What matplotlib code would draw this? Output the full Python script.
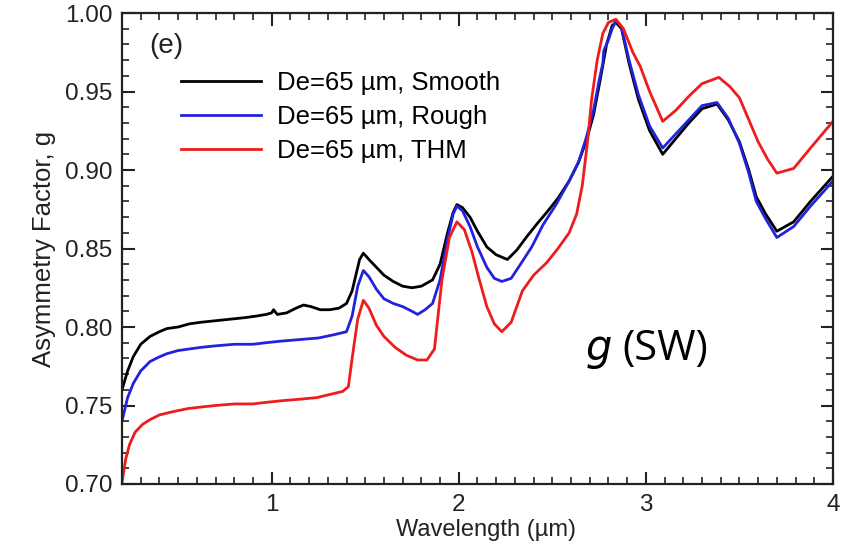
import numpy as np
import matplotlib.pyplot as plt
from matplotlib.ticker import MultipleLocator

# curvas (g vs longitud de onda)
x_smooth = [0.20, 0.23, 0.26, 0.30, 0.35, 0.40, 0.44, 0.50, 0.56, 0.62, 0.70, 0.78, 0.86, 0.92,
            0.97, 1.00, 1.01, 1.03, 1.08, 1.13, 1.17, 1.21, 1.26, 1.31, 1.36, 1.40, 1.43, 1.45,
            1.47, 1.49, 1.52, 1.56, 1.60, 1.65, 1.70, 1.75, 1.80, 1.86, 1.90, 1.94, 1.97, 1.99,
            2.02, 2.06, 2.10, 2.15, 2.20, 2.26, 2.31, 2.36, 2.42, 2.47, 2.53, 2.59, 2.64, 2.68,
            2.72, 2.76, 2.79, 2.82, 2.84, 2.87, 2.91, 2.96, 3.02, 3.09, 3.16, 3.23, 3.30, 3.38,
            3.44, 3.50, 3.55, 3.59, 3.64, 3.70, 3.79, 3.88, 4.00]
g_smooth = [0.760, 0.772, 0.781, 0.789, 0.794, 0.797, 0.799, 0.800, 0.802, 0.803, 0.804, 0.805,
            0.806, 0.807, 0.808, 0.809, 0.811, 0.808, 0.809, 0.812, 0.814, 0.813, 0.811, 0.811,
            0.812, 0.815, 0.823, 0.833, 0.843, 0.847, 0.843, 0.838, 0.833, 0.829, 0.826, 0.825,
            0.826, 0.830, 0.840, 0.860, 0.873, 0.878, 0.876, 0.870, 0.861, 0.851, 0.846, 0.843,
            0.849, 0.857, 0.866, 0.873, 0.882, 0.893, 0.905, 0.918, 0.935, 0.960, 0.980, 0.992,
            0.994, 0.990, 0.968, 0.945, 0.925, 0.910, 0.920, 0.930, 0.939, 0.942, 0.932, 0.918,
            0.900, 0.883, 0.872, 0.861, 0.867, 0.880, 0.896]

x_rough = [0.20, 0.23, 0.26, 0.30, 0.35, 0.40, 0.44, 0.50, 0.56, 0.62, 0.70, 0.80, 0.90, 0.97,
           1.05, 1.15, 1.25, 1.33, 1.40, 1.43, 1.46, 1.49, 1.52, 1.56, 1.60, 1.65, 1.70, 1.75,
           1.78, 1.82, 1.86, 1.90, 1.94, 1.97, 1.99, 2.02, 2.06, 2.10, 2.15, 2.19, 2.23, 2.28,
           2.33, 2.39, 2.45, 2.52, 2.59, 2.64, 2.68, 2.72, 2.75, 2.77, 2.775, 2.80, 2.82, 2.84,
           2.87, 2.91, 2.96, 3.02, 3.09, 3.16, 3.23, 3.30, 3.38, 3.44, 3.50, 3.55, 3.59, 3.64,
           3.70, 3.79, 3.88, 4.00]
g_rough = [0.740, 0.755, 0.764, 0.772, 0.778, 0.781, 0.783, 0.785, 0.786, 0.787, 0.788, 0.789,
           0.789, 0.790, 0.791, 0.792, 0.793, 0.795, 0.797, 0.807, 0.826, 0.836, 0.832, 0.824,
           0.818, 0.815, 0.813, 0.810, 0.808, 0.811, 0.815, 0.830, 0.856, 0.872, 0.877, 0.874,
           0.864, 0.851, 0.838, 0.831, 0.829, 0.831, 0.840, 0.851, 0.865, 0.878, 0.893, 0.905,
           0.920, 0.938, 0.957, 0.968, 0.976, 0.983, 0.990, 0.995, 0.991, 0.970, 0.948, 0.928,
           0.914, 0.923, 0.932, 0.941, 0.943, 0.933, 0.917, 0.898, 0.880, 0.869, 0.857, 0.864,
           0.877, 0.893]

x_thm = [0.20, 0.22, 0.24, 0.27, 0.31, 0.35, 0.40, 0.47, 0.55, 0.62, 0.70, 0.80, 0.90, 0.97,
         1.05, 1.15, 1.24, 1.31, 1.38, 1.41, 1.43, 1.46, 1.49, 1.52, 1.56, 1.60, 1.66, 1.72,
         1.78, 1.83, 1.87, 1.91, 1.95, 1.99, 2.03, 2.07, 2.11, 2.15, 2.19, 2.23, 2.28, 2.34,
         2.40, 2.47, 2.53, 2.59, 2.63, 2.66, 2.69, 2.71, 2.74, 2.77, 2.80, 2.84, 2.88, 2.93,
         2.97, 3.02, 3.09, 3.16, 3.23, 3.30, 3.39, 3.45, 3.50, 3.55, 3.60, 3.65, 3.70, 3.79,
         3.88, 4.00]
g_thm = [0.701, 0.716, 0.725, 0.733, 0.738, 0.741, 0.744, 0.746, 0.748, 0.749, 0.750, 0.751,
         0.751, 0.752, 0.753, 0.754, 0.755, 0.757, 0.759, 0.762, 0.780, 0.805, 0.817, 0.812,
         0.801, 0.794, 0.787, 0.782, 0.779, 0.779, 0.786, 0.830, 0.857, 0.867, 0.862, 0.848,
         0.830, 0.813, 0.802, 0.797, 0.803, 0.823, 0.833, 0.841, 0.850, 0.860, 0.872, 0.890,
         0.920, 0.945, 0.970, 0.987, 0.994, 0.996, 0.990, 0.975, 0.966, 0.950, 0.931, 0.938,
         0.947, 0.955, 0.959, 0.953, 0.946, 0.932, 0.918, 0.907, 0.898, 0.901, 0.914, 0.931]

etiquetas = ['De=65 \u00b5m, Smooth', 'De=65 \u00b5m, Rough', 'De=65 \u00b5m, THM']
colores = ['black', '#2222dd', '#ee1c1c']

plt.rcParams['font.family'] = ['Liberation Sans', 'DejaVu Sans']

fig = plt.figure(figsize=(8.46, 5.56), dpi=100)
ax = fig.add_axes([0.1442, 0.1295, 0.8404, 0.8471])

ax.plot(x_smooth, g_smooth, color=colores[0], lw=2, label=etiquetas[0])
ax.plot(x_rough, g_rough, color=colores[1], lw=2, label=etiquetas[1])
ax.plot(x_thm, g_thm, color=colores[2], lw=2, label=etiquetas[2])

ax.set_xlim(0.2, 4.0)
ax.set_ylim(0.70, 1.00)
ax.xaxis.set_major_locator(MultipleLocator(1))
ax.xaxis.set_minor_locator(MultipleLocator(0.1))
ax.yaxis.set_major_locator(MultipleLocator(0.05))
ax.yaxis.set_minor_locator(MultipleLocator(0.01))
ax.yaxis.set_major_formatter(lambda v, p: '%.2f' % v)
ax.tick_params(which='both', direction='in', top=True, right=True, labelsize=17.5, colors='#222222')
ax.tick_params(which='major', length=9, width=1.5, pad=7)
ax.tick_params(which='minor', length=5, width=1.2)
for s in ax.spines.values():
    s.set_linewidth(1.6)
    s.set_color('#222222')

ax.set_xlabel('Wavelength (\u00b5m)', fontsize=17, color='#222222', labelpad=0)
ax.xaxis.set_label_coords(0.512, -0.075)
ax.set_ylabel('Asymmetry Factor, g', fontsize=18.5, color='#222222', labelpad=6)

ax.text(0.038, 0.915, '(e)', transform=ax.transAxes, fontsize=20, color='#222222')
ax.legend(loc='upper left', bbox_to_anchor=(0.065, 0.905), frameon=False, fontsize=18.5,
          handlelength=3.1, handletextpad=0.65, labelspacing=0.4, borderpad=0)

ax.text(0.651, 0.263, '$g$', transform=ax.transAxes, fontsize=30, family='Open Sans',
        style='italic', va='baseline')
ax.text(0.704, 0.263, '(SW)', transform=ax.transAxes, fontsize=30, family='Open Sans',
        va='baseline')

fig.savefig('out.png', dpi=100)
